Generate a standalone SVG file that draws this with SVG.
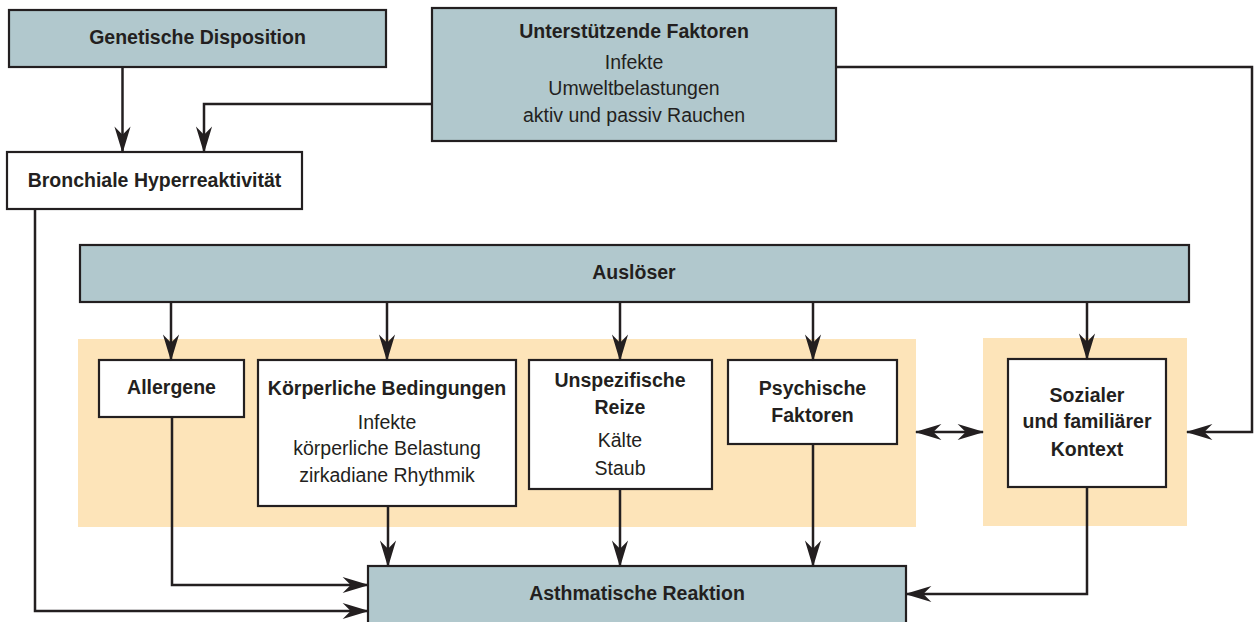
<svg xmlns="http://www.w3.org/2000/svg" width="1256" height="622" viewBox="0 0 1256 622">
<style>
.bg{fill:#ffffff}
.blue{fill:#b1c8cd;stroke:#231f20;stroke-width:2.2}
.white{fill:#ffffff;stroke:#231f20;stroke-width:2.2}
.zone{fill:#fde4b9}
.b{font-family:"Liberation Sans",Arial,sans-serif;font-weight:bold;font-size:19.5px;fill:#231f20;text-anchor:middle}
.r{font-family:"Liberation Sans",Arial,sans-serif;font-size:19.5px;fill:#231f20;text-anchor:middle}
.c{fill:none;stroke:#231f20;stroke-width:2.5}
</style>
<defs>
<marker id="ah" markerUnits="userSpaceOnUse" markerWidth="30" markerHeight="20" viewBox="-24 -8 26 16" refX="0" refY="0" orient="auto-start-reverse">
<path d="M1,0 L-22,-7 L-15,0 L-22,7 Z" fill="#231f20"/>
</marker>
</defs>
<rect class="bg" x="0" y="0" width="1256" height="622"/>
<g id="zones">
<rect class="zone" x="78" y="339" width="838" height="188"/>
<rect class="zone" x="983" y="338" width="204" height="188"/>
</g>
<g id="genetische">
<rect class="blue" x="9" y="10" width="377" height="57"/>
<text class="b" x="197.5" y="44">Genetische Disposition</text>
</g>
<g id="unterstuetzende">
<rect class="blue" x="432" y="8" width="404" height="133"/>
<text class="b" x="634" y="38">Unterstützende Faktoren</text>
<text class="r" x="634" y="69">Infekte</text>
<text class="r" x="634" y="95">Umweltbelastungen</text>
<text class="r" x="634" y="122">aktiv und passiv Rauchen</text>
</g>
<g id="bronchiale">
<rect class="white" x="7" y="152" width="295" height="57"/>
<text class="b" x="154.5" y="187">Bronchiale Hyperreaktivität</text>
</g>
<g id="ausloeser">
<rect class="blue" x="80" y="245" width="1109" height="57"/>
<text class="b" x="634" y="279">Auslöser</text>
</g>
<g id="allergene">
<rect class="white" x="99" y="360" width="145" height="57"/>
<text class="b" x="171.5" y="394">Allergene</text>
</g>
<g id="koerperliche">
<rect class="white" x="258" y="360" width="258" height="146"/>
<text class="b" x="387" y="395">Körperliche Bedingungen</text>
<text class="r" x="387" y="429">Infekte</text>
<text class="r" x="387" y="455">körperliche Belastung</text>
<text class="r" x="387" y="482">zirkadiane Rhythmik</text>
</g>
<g id="unspezifische">
<rect class="white" x="529" y="360" width="183" height="129"/>
<text class="b" x="620" y="387">Unspezifische</text>
<text class="b" x="620" y="414">Reize</text>
<text class="r" x="620" y="447">Kälte</text>
<text class="r" x="620" y="475">Staub</text>
</g>
<g id="psychische">
<rect class="white" x="728" y="360" width="169" height="84"/>
<text class="b" x="812.5" y="395">Psychische</text>
<text class="b" x="812.5" y="422">Faktoren</text>
</g>
<g id="sozialer">
<rect class="white" x="1008" y="359" width="158" height="128"/>
<text class="b" x="1087" y="402">Sozialer</text>
<text class="b" x="1087" y="428">und familiärer</text>
<text class="b" x="1087" y="456">Kontext</text>
</g>
<g id="asthmatische">
<rect class="blue" x="368" y="566" width="538" height="70"/>
<text class="b" x="637" y="600">Asthmatische Reaktion</text>
</g>
<g id="connectors">
<path class="c" d="M122.5,67 V152" marker-end="url(#ah)"/>
<path class="c" d="M432,104 H204 V152" marker-end="url(#ah)"/>
<path class="c" d="M836,67 H1252 V432 H1187" marker-end="url(#ah)"/>
<path class="c" d="M171,302 V360" marker-end="url(#ah)"/>
<path class="c" d="M387,302 V360" marker-end="url(#ah)"/>
<path class="c" d="M620,302 V360" marker-end="url(#ah)"/>
<path class="c" d="M813,302 V360" marker-end="url(#ah)"/>
<path class="c" d="M1087,302 V359" marker-end="url(#ah)"/>
<path class="c" d="M172,417 V585 H368" marker-end="url(#ah)"/>
<path class="c" d="M35,209 V611 H368" marker-end="url(#ah)"/>
<path class="c" d="M388,506 V566" marker-end="url(#ah)"/>
<path class="c" d="M620,489 V566" marker-end="url(#ah)"/>
<path class="c" d="M813,444 V566" marker-end="url(#ah)"/>
<path class="c" d="M1087,487 V594 H906" marker-end="url(#ah)"/>
<path class="c" d="M916,432 H983" marker-start="url(#ah)" marker-end="url(#ah)"/>
</g>
</svg>
